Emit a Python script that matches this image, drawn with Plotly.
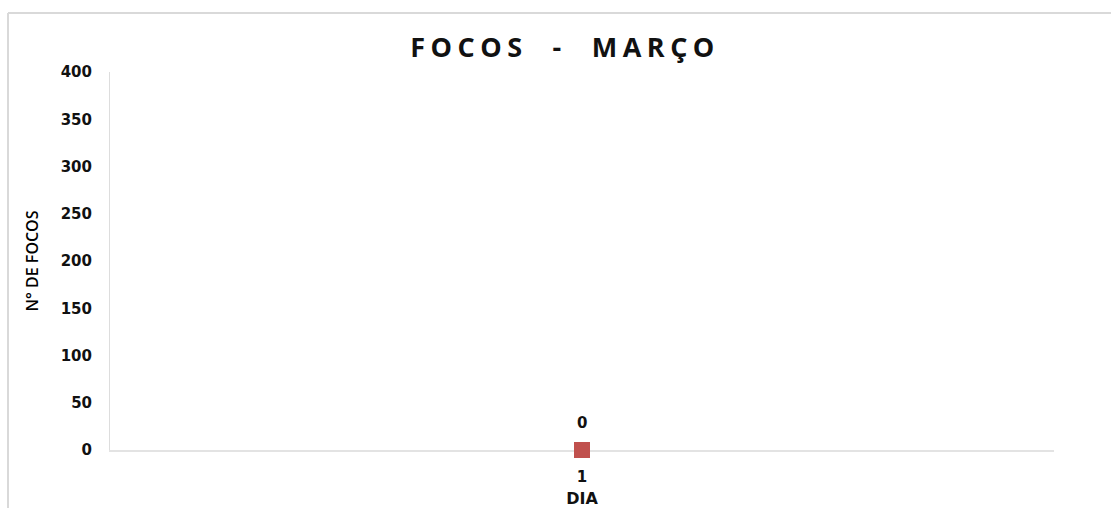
import plotly.graph_objects as go

# Data
dias = [1]
focos = [0]
y_ticks = [0, 50, 100, 150, 200, 250, 300, 350, 400]

W, H = 1111, 508
ML, MR, MT, MB = 110, 57, 72, 58
pw, ph = W - ML - MR, H - MT - MB

def px_x(x):
    return (x - ML) / pw

def px_y(y):
    return (H - MB - y) / ph

BOLD = dict(family="DejaVu Sans", color="#111111", weight="bold")

fig = go.Figure()
fig.add_trace(go.Scatter(
    x=dias, y=focos, mode="markers",
    marker=dict(symbol="square", size=16, color="#C0504D"),
    cliponaxis=False, showlegend=False,
))
for d, v in zip(dias, focos):
    fig.add_annotation(x=d, y=v, text=str(v), showarrow=False, yshift=27,
                       font=dict(size=15, **BOLD))

fig.update_layout(
    width=W, height=H,
    margin=dict(l=ML, r=MR, t=MT, b=MB, autoexpand=False),
    paper_bgcolor="white", plot_bgcolor="white",
    title=dict(
        text='<span style="letter-spacing:5.5px">FOCOS  -  MARÇO</span>',
        x=565 / W, xanchor="center", y=1 - 48 / H, yanchor="middle",
        font=dict(family="Open Sans", size=27, color="#111111", weight="bold"),
    ),
    xaxis=dict(
        range=[0.5, 1.5], tickvals=dias, ticktext=[str(d) for d in dias],
        showgrid=False, zeroline=False, showline=True, linecolor="#E3E3E3", linewidth=2,
        layer="below traces", automargin=False,
        ticks="", ticklabelstandoff=12, tickfont=dict(size=15, **BOLD),
        title=dict(text="DIA", font=dict(size=16, **BOLD), standoff=8),
    ),
    yaxis=dict(
        range=[0, 400], tickvals=y_ticks,
        showgrid=False, zeroline=False, showline=True, linecolor="#DDDDDD", linewidth=1,
        layer="below traces", automargin=False,
        ticks="", ticklabelstandoff=14,
        tickfont=dict(size=15, **BOLD),
        title=dict(text="N° DE FOCOS", font=dict(family="Open Sans", size=16, color="#000000", weight=600), standoff=18),
    ),
    shapes=[
        dict(type="line", xref="paper", yref="paper", x0=px_x(8), x1=px_x(1111), y0=px_y(13), y1=px_y(13),
             line=dict(color="#D9D9D9", width=2)),
        dict(type="line", xref="paper", yref="paper", x0=px_x(8), x1=px_x(8), y0=px_y(13), y1=px_y(508),
             line=dict(color="#D9D9D9", width=2)),
    ],
)

fig.write_html("out.html", config={"displayModeBar": False},
               post_script="document.body.style.margin='0';document.body.style.padding='0';")
